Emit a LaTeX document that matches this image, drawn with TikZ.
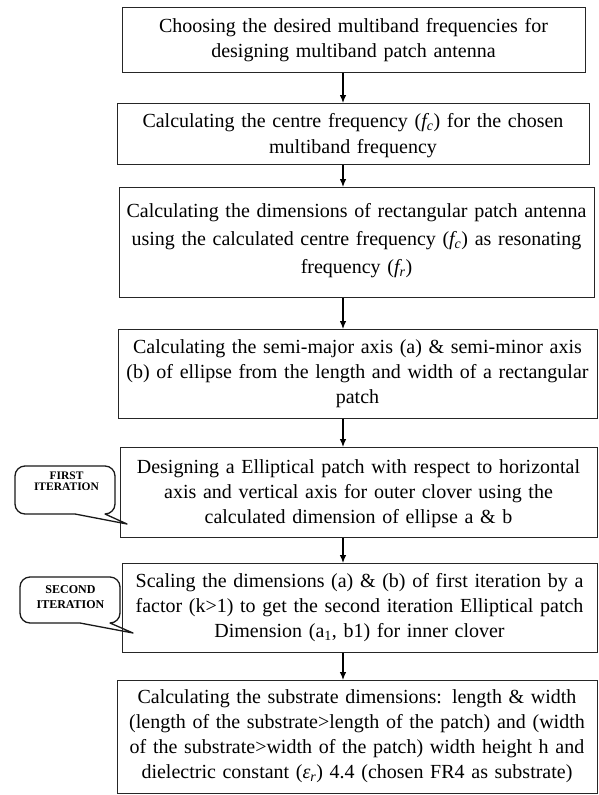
\documentclass[tikz,border=0pt]{standalone}
\usepackage{fontspec}
\setmainfont{Liberation Serif}
\usetikzlibrary{arrows.meta}
\begin{document}
\begin{tikzpicture}[x=1pt,y=-1pt,
  box/.style={draw=black!85, line width=1.4pt, inner sep=0pt, anchor=north west},
  txt/.style={anchor=base, align=center, inner sep=0pt, text width=560pt, font=\fontsize{20}{25}\selectfont},
  arr/.style={line width=1.1pt, -{Latex[length=8pt,width=6.5pt]}},
  callout/.style={draw=black!90, line width=1.3pt, line join=round},
  ctxt/.style={anchor=base, align=center, inner sep=0pt, text width=100pt}]
\useasboundingbox (0,0) rectangle (598,795);
\fill[white] (0,0) rectangle (598,795);

% boxes
\node[box, minimum width=463pt, minimum height=65pt]  (b1) at (122,7) {};
\node[box, minimum width=472pt, minimum height=61pt]  (b2) at (117,103) {};
\node[box, minimum width=475pt, minimum height=110pt] (b3) at (119,187) {};
\node[box, minimum width=479pt, minimum height=89pt]  (b4) at (118,329) {};
\node[box, minimum width=477pt, minimum height=90pt]  (b5) at (120,447) {};
\node[box, minimum width=475pt, minimum height=89pt]  (b6) at (122,563) {};
\node[box, minimum width=480pt, minimum height=113pt] (b7) at (117,680) {};

% texts
\node[txt] (t1) at (353.5,32) {Choosing the desired multiband frequencies for\\designing multiband patch antenna};
\node[txt, font=\fontsize{20}{26}\selectfont] (t2) at (353,127) {Calculating the centre frequency (\textit{f\textsubscript{c}}) for the chosen\\multiband frequency};
\node[txt, font=\fontsize{20}{28}\selectfont] (t3) at (356.5,217) {Calculating the dimensions of rectangular patch antenna\\using the calculated centre frequency (\textit{f\textsubscript{c}}) as resonating\\frequency (\textit{f\textsubscript{r}})};
\node[txt] (t4) at (357.5,353) {Calculating the semi-major axis (a) \& semi-minor axis\\(b) of ellipse from the length and width of a rectangular\\patch};
\node[txt] (t5) at (358.5,473) {Designing a Elliptical patch with respect to horizontal\\axis and vertical axis for outer clover using the\\calculated dimension of ellipse a \& b};
\node[txt] (t6) at (359.5,587) {Scaling the dimensions (a) \& (b) of first iteration by a\\factor (k>1) to get the second iteration Elliptical patch\\Dimension (a\textsubscript{1}, b1) for inner clover};
\node[txt] (t7) at (357,703) {Calculating the substrate dimensions: length \& width\\(length of the substrate>length of the patch) and (width\\of the substrate>width of the patch) width height h and\\dielectric constant (\textit{ε\textsubscript{r}}) 4.4 (chosen FR4 as substrate)};

% arrows
\coordinate (ax) at (343,0);
\draw[arr] (b1.south -| ax) -- (b2.north -| ax);
\draw[arr] (b2.south -| ax) -- (b3.north -| ax);
\draw[arr] (b3.south -| ax) -- (b4.north -| ax);
\draw[arr] (b4.south -| ax) -- (b5.north -| ax);
\draw[arr] (b5.south -| ax) -- (b6.north -| ax);
\draw[arr] (b6.south -| ax) -- (b7.north -| ax);

% callouts
\draw[callout] (25,466) -- (105,466) arc[start angle=-90,end angle=0,radius=10]
  -- (115,504) arc[start angle=0,end angle=90,radius=10]
  -- (127,524) -- (75,514) -- (25,514) arc[start angle=90,end angle=180,radius=10]
  -- (15,476) arc[start angle=180,end angle=270,radius=10] -- cycle;
\node[ctxt, font=\bfseries\fontsize{11.5}{11.5}\selectfont] (c1) at (66.5,479) {FIRST\\ITERATION};

\draw[callout] (30,577) -- (110,577) arc[start angle=-90,end angle=0,radius=10]
  -- (120,613) arc[start angle=0,end angle=90,radius=10]
  -- (133,633) -- (80,623) -- (30,623) arc[start angle=90,end angle=180,radius=10]
  -- (20,587) arc[start angle=180,end angle=270,radius=10] -- cycle;
\node[ctxt, font=\bfseries\fontsize{12}{15}\selectfont] (c2) at (70.5,593) {SECOND\\ITERATION};
\end{tikzpicture}
\end{document}
